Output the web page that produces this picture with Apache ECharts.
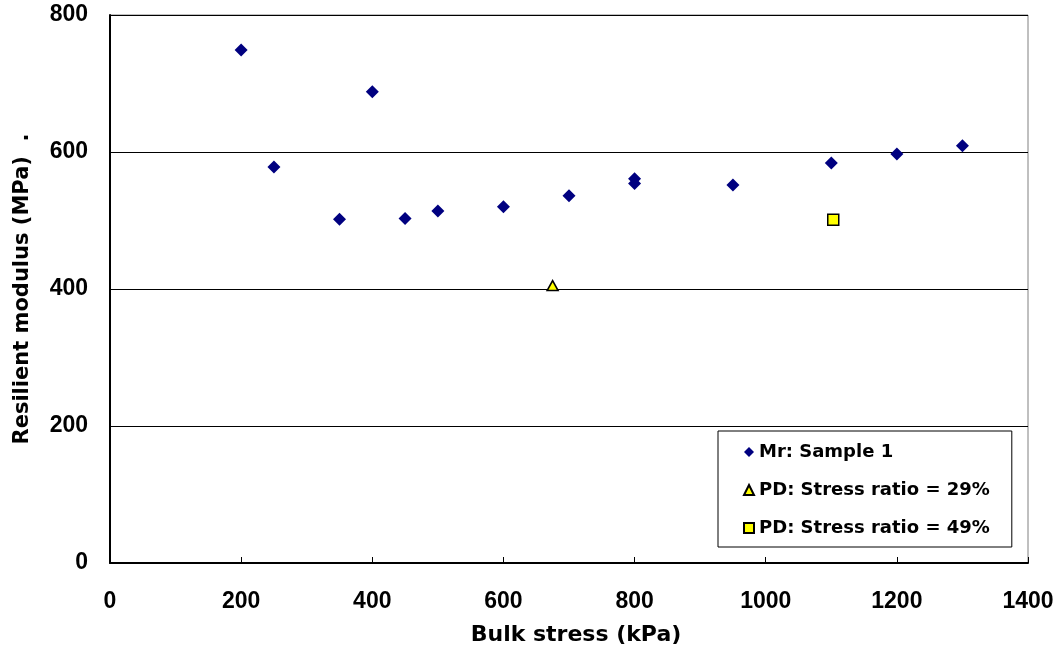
<!DOCTYPE html>
<html>
<head>
<meta charset="utf-8">
<script src="https://cdn.jsdelivr.net/npm/echarts@6/dist/echarts.min.js"></script>
<style>html,body{margin:0;padding:0;background:#fff}#c{width:1060px;height:661px}</style>
</head>
<body>
<div id="c"></div>
<script>
// Data
const sampleBulk = [200, 250, 350, 400, 450, 500, 600, 700, 800, 800, 950, 1100, 1200, 1300];
const sampleMr   = [749, 578, 502, 688, 503, 514, 520, 536, 561, 554, 552, 584, 597, 609];
const pd29Bulk = [675];
const pd29Mr   = [405];
const pd49Bulk = [1103];
const pd49Mr   = [501];
const seriesNames = ['Mr: Sample 1', 'PD: Stress ratio = 29%', 'PD: Stress ratio = 49%'];
const xTitle = 'Bulk stress (kPa)';
const yTitle = 'Resilient modulus (MPa)  .';

const zip = (a, b) => a.map((v, i) => [v, b[i]]);
const FONT = 'Arial, "Liberation Sans", sans-serif';
const WIDE = '"DejaVu Sans", "Liberation Sans", sans-serif';

const chart = echarts.init(document.getElementById('c'), null, {renderer: 'canvas'});
chart.setOption({
  animation: false,
  backgroundColor: '#ffffff',
  textStyle: {fontFamily: FONT},
  grid: {left: 110, top: 15, right: 32, bottom: 98, show: true, borderColor: '#808080', borderWidth: 1, backgroundColor: '#ffffff'},
  legend: {
    orient: 'vertical', left: 718, top: 431,
    backgroundColor: '#ffffff', borderColor: '#000000', borderWidth: 1,
    padding: [12, 22, 10, 25], itemGap: 20, itemWidth: 10, itemHeight: 10,
    textStyle: {fontFamily: WIDE, fontWeight: 'bold', fontSize: 18, color: '#000000'},
    data: [
      {name: seriesNames[0], icon: 'diamond'},
      {name: seriesNames[1], icon: 'triangle'},
      {name: seriesNames[2], icon: 'rect'}
    ]
  },
  xAxis: {
    type: 'value', min: 0, max: 1400, interval: 200,
    name: xTitle, nameLocation: 'middle', nameGap: 61,
    nameTextStyle: {fontFamily: WIDE, fontWeight: 'bold', fontSize: 22, color: '#000000', padding: [0, 0, 0, 14]},
    axisLine: {show: true, onZero: false, lineStyle: {color: '#000000', width: 2}},
    axisTick: {show: true, inside: true, length: 6, lineStyle: {color: '#000000', width: 1}},
    axisLabel: {fontFamily: FONT, fontWeight: 'bold', fontSize: 23, color: '#000000', margin: 27,
                formatter: v => String(v)},
    splitLine: {show: false}
  },
  yAxis: {
    type: 'value', min: 0, max: 800, interval: 200,
    name: yTitle, nameLocation: 'middle', nameGap: 77, nameRotate: 90,
    nameTextStyle: {fontFamily: WIDE, fontWeight: 'bold', fontSize: 21, color: '#000000'},
    axisLine: {show: true, onZero: false, lineStyle: {color: '#000000', width: 2}},
    axisTick: {show: true, inside: true, length: 6, lineStyle: {color: '#000000', width: 1}},
    axisLabel: {fontFamily: FONT, fontWeight: 'bold', fontSize: 23, color: '#000000', margin: 22,
                formatter: v => String(v)},
    splitLine: {show: true, lineStyle: {color: '#000000', width: 1}}
  },
  series: [
    {
      name: seriesNames[0], type: 'scatter', symbol: 'diamond', symbolSize: 13,
      itemStyle: {color: '#000080', opacity: 1},
      data: zip(sampleBulk, sampleMr), z: 3
    },
    {
      name: seriesNames[1], type: 'scatter', symbol: 'triangle', symbolSize: [11, 10],
      itemStyle: {color: '#ffff00', borderColor: '#000000', borderWidth: 1.5, opacity: 1},
      data: zip(pd29Bulk, pd29Mr), z: 3
    },
    {
      name: seriesNames[2], type: 'scatter', symbol: 'rect', symbolSize: 11,
      itemStyle: {color: '#ffff00', borderColor: '#000000', borderWidth: 1.5, opacity: 1},
      data: zip(pd49Bulk, pd49Mr), z: 3
    }
  ]
});
</script>
</body>
</html>
